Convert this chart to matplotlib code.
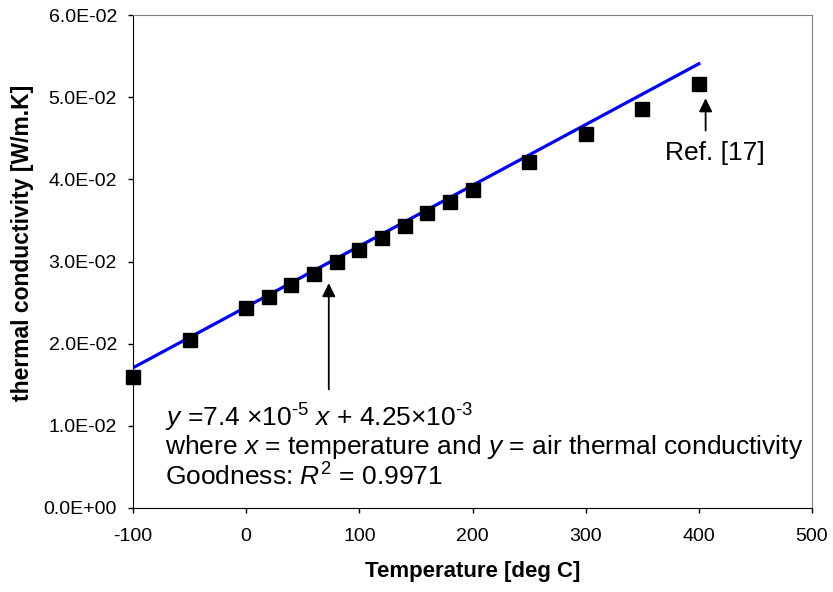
import matplotlib
matplotlib.use("Agg")
import matplotlib.pyplot as plt
import numpy as np

plt.rcParams['font.family'] = ['Liberation Sans', 'DejaVu Sans']
plt.rcParams['mathtext.fontset'] = 'custom'
plt.rcParams['mathtext.rm'] = 'Liberation Sans'
plt.rcParams['mathtext.it'] = 'Liberation Sans:italic'
plt.rcParams['axes.unicode_minus'] = False

# measured air thermal conductivity
temp_c = [-100, -50, 0, 20, 40, 60, 80, 100, 120, 140, 160, 180, 200, 250, 300, 350, 400]
k_air = [0.0160, 0.0204, 0.0243, 0.0257, 0.0271, 0.0285, 0.0299, 0.0314, 0.0329,
         0.0343, 0.0359, 0.0373, 0.0387, 0.0421, 0.0455, 0.0486, 0.0516]

# linear fit, x in Kelvin
slope = 7.4e-5
intercept = 4.25e-3
fit_t = np.array([-100, 400])
fit_k = slope * (fit_t + 273.15) + intercept

x_ticks = [-100, 0, 100, 200, 300, 400, 500]
y_ticks = [0.0, 0.01, 0.02, 0.03, 0.04, 0.05, 0.06]

fig = plt.figure(figsize=(8.33, 5.92), dpi=100)
ax = fig.add_axes([133/833, 1 - 508/592, (812-133)/833, (508-15)/592])

ax.plot(fit_t, fit_k, color='#0000ff', lw=2.3, zorder=2)
ax.plot(temp_c, k_air, 's', color='black', ms=10, zorder=3, clip_on=False)

ax.set_xlim(-100, 500)
ax.set_ylim(0, 0.06)
ax.set_xticks(x_ticks)
ax.set_yticks(y_ticks)
ax.set_yticklabels(['%.1E' % v for v in y_ticks])
ax.tick_params(direction='out', length=3.6, width=1, labelsize=14)
ax.tick_params(axis='x', pad=11)
ax.tick_params(axis='y', pad=8)
for s in ['top', 'right']:
    ax.spines[s].set_color('#808080')
for s in ['left', 'bottom']:
    ax.spines[s].set_color('black')

ax.set_xlabel('Temperature [deg C]', fontsize=16, fontweight='bold', labelpad=11)
ax.set_ylabel('thermal conductivity [W/m.K]', fontsize=16.5, fontweight='bold')
ax.yaxis.set_label_coords(-0.146, 0.5375)

# arrows
ax.annotate('', xy=(73, 0.0277), xytext=(73, 0.0141),
            arrowprops=dict(arrowstyle='-|>', color='black', lw=1.3, mutation_scale=20))
ax.annotate('', xy=(406, 0.0502), xytext=(406, 0.0456),
            arrowprops=dict(arrowstyle='-|>', color='black', lw=1.3, mutation_scale=20))
ax.text(414, 0.0432, 'Ref. [17]', fontsize=19, ha='center', va='center')

fs = 19
ax.text(-72, 0.01095, r'$y$ =7.4 ×10$^{\text{-}5}$ $x$ + 4.25×10$^{\text{-}3}$', fontsize=fs, va='center')
ax.text(-72, 0.00742, r'where $x$ = temperature and $y$ = air thermal conductivity', fontsize=fs, va='center')
ax.text(-72, 0.00377, r'Goodness: $R^2$ = 0.9971', fontsize=fs, va='center')

fig.savefig('out.png', dpi=100)
